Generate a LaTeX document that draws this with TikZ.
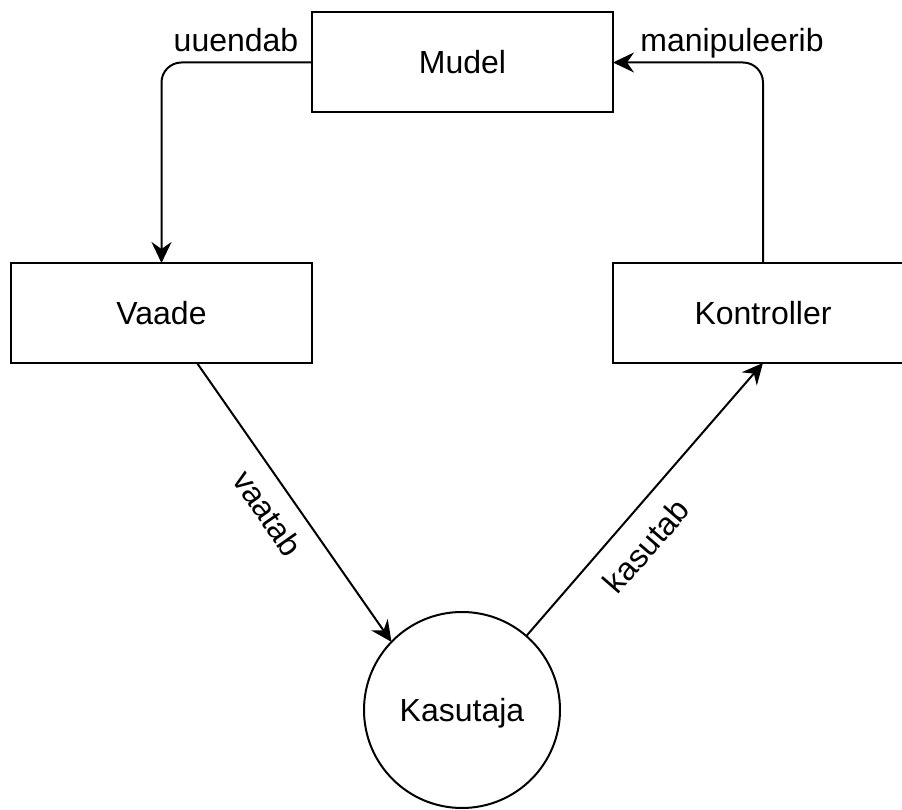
\documentclass[tikz,border=0pt]{standalone}
\usepackage{fontspec}
\setmainfont{Liberation Sans}
\usetikzlibrary{arrows.meta}
\begin{document}
\begin{tikzpicture}[x=1pt,y=1pt,
  every node/.style={font=\fontsize{32}{38}\selectfont},
  box/.style={draw, line width=2pt, minimum width=301pt, minimum height=100pt, inner sep=0pt, outer sep=0pt},
  person/.style={draw, circle, line width=2pt, minimum size=196pt, inner sep=0pt, outer sep=0pt, text depth=0pt},
  link/.style={line width=2pt, -{Stealth[length=21pt,width=20pt,inset=7pt]}},
  flow/.style={inner sep=0pt}]
  \useasboundingbox (0,0) rectangle (902,810);

  % components
  \node[box] (mudel) at (462.5,747.5) {Mudel};
  \node[box] (vaade) at (161.5,497) {Vaade};
  \node[box] (kontroller) at (763,497) {Kontroller};
  \node[person] (kasutaja) at (462,100) {Kasutaja};

  % connectors
  \draw[link, rounded corners=20pt] (mudel.west) -| (vaade.north);
  \draw[link, rounded corners=20pt] (kontroller.north) |- (mudel.east);
  \draw[link] ([xshift=35.5pt]vaade.south) -- (kasutaja.136.6);
  \draw[link] (kasutaja.49) -- (kontroller.south);

  % connector labels
  \node[flow, anchor=base] (l1) at (236,758) {uuendab};
  \node[flow, anchor=base] (l2) at (732,758) {manipuleerib};
  \node[flow, rotate=-55] (l3) at (268,297) {vaatab};
  \node[flow, rotate=49] (l4) at (646,264) {kasutab};
\end{tikzpicture}
\end{document}
